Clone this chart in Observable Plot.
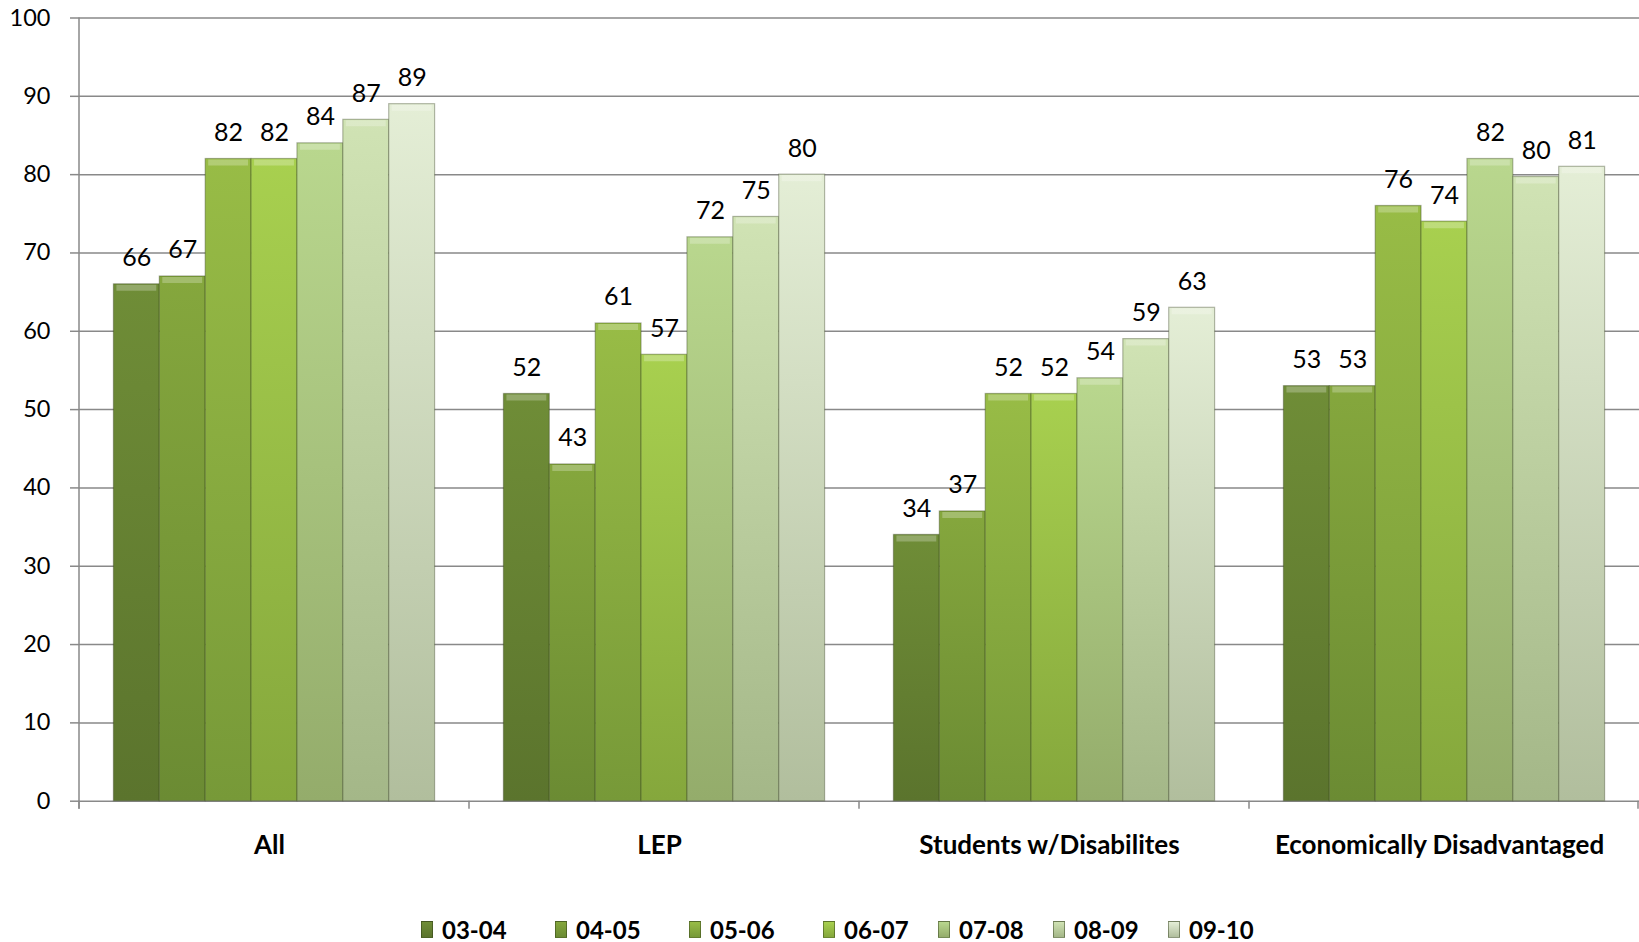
<!DOCTYPE html>
<html>
<head>
<meta charset="utf-8">
<script src="https://cdn.jsdelivr.net/npm/d3@7"></script>
<script src="https://cdn.jsdelivr.net/npm/@observablehq/plot@0.6"></script>
<style>
  html, body { margin: 0; padding: 0; background: #fff; overflow: hidden; }
  #chart svg { display: block; }
  #legend { display: flex; align-items: center; padding-left: 421px; margin-top: 36px; height: 26px;
    font-family: Lato, "Open Sans", sans-serif; font-weight: bold; font-size: 24px; color: #000; }
  .item { display: flex; align-items: center; }
  .sw { width: 12px; height: 17px; margin-right: 9px; box-sizing: border-box; border: 1px solid rgba(40,50,20,0.45); }
</style>
</head>
<body>
<svg width="0" height="0" style="position:absolute">
  <defs id="grads"></defs>
</svg>
<div id="chart"></div>
<div id="legend"></div>
<script>
const categories = ["All", "LEP", "Students w/Disabilites", "Economically Disadvantaged"];
const years = ["03-04", "04-05", "05-06", "06-07", "07-08", "08-09", "09-10"];
const v0304 = [66, 52, 34, 53];
const v0405 = [67, 43, 37, 53];
const v0506 = [82, 61, 52, 76];
const v0607 = [82, 57, 52, 74];
const v0708 = [84, 72, 54, 82];
const v0809 = [87, 74.6, 59, 79.7];
const v0910 = [89, 80, 63, 81];
const yTicks = [0, 10, 20, 30, 40, 50, 60, 70, 80, 90, 100];

const series = [v0304, v0405, v0506, v0607, v0708, v0809, v0910];
const topColors = ["#6f8d37", "#85a73d", "#98bc46", "#a8d04f", "#b9d78e", "#d0e3b4", "#e4eed6"];
const bottomColors = ["#5b742d", "#6b8b33", "#779938", "#85a73c", "#94ac6b", "#a4b788", "#b1be9d"];

const rows = [];
years.forEach((yr, i) => categories.forEach((c, j) => rows.push({category: c, year: yr, value: series[i][j]})));

// gradients
const defs = d3.select("#grads");
years.forEach((yr, i) => {
  const g = defs.append("linearGradient").attr("id", "g" + i).attr("x1", 0).attr("y1", 0).attr("x2", 0).attr("y2", 1);
  g.append("stop").attr("offset", "0%").attr("stop-color", topColors[i]);
  g.append("stop").attr("offset", "100%").attr("stop-color", bottomColors[i]);
});

const chart = Plot.plot({
  width: 1639,
  height: 880,
  marginLeft: 78,
  marginRight: 0,
  marginTop: 17.5,
  marginBottom: 79.3,
  style: {fontFamily: "Lato, 'Open Sans', sans-serif", fontSize: "23px", color: "#000", background: "#fff"},
  fx: {domain: categories, padding: 0, label: null},
  x: {domain: years, paddingInner: 0, paddingOuter: 0.75, round: false, axis: null},
  y: {domain: [0, 100], label: null},
  color: {type: "ordinal", domain: years, range: years.map((_, i) => `url(#g${i})`)},
  marks: [
    Plot.gridY(yTicks, {stroke: "#898989", strokeOpacity: 1, strokeWidth: 1.5}),
    Plot.axisY(yTicks, {tickSize: 9, tickPadding: 20, stroke: "#898989", strokeWidth: 1.5, fill: "#000", fontSize: 23.5, label: null}),
    Plot.axisFx({anchor: "bottom", tickSize: 0, tickPadding: 34, dx: -5, fontWeight: "bold", fontSize: 26, label: null}),
    Plot.barY(rows, {fx: "category", x: "year", y: "value", fill: "year", stroke: "#2f3a18", strokeOpacity: 0.35, strokeWidth: 1.2}),
    Plot.tickY(rows, {fx: "category", x: "year", y: "value", stroke: "#fff", strokeOpacity: 0.25, strokeWidth: 6, dy: 3.5, inset: 3}),
    Plot.text(rows, {fx: "category", x: "year", y: "value", text: d => d3.format(".0f")(d.value), lineAnchor: "bottom", dy: -18, fontSize: 25, fill: "#000"})
  ]
});
document.getElementById("chart").appendChild(chart);

// axis lines and category boundary ticks
const fx = chart.scale("fx");
const y = chart.scale("y");
const svg = d3.select(chart);
const y0 = y.apply(0);
const x0 = fx.apply(categories[0]);
svg.append("line").attr("x1", x0).attr("x2", x0).attr("y1", y.apply(100)).attr("y2", y0 + 8)
  .attr("stroke", "#898989").attr("stroke-width", 1.5);
const bounds = categories.map(c => fx.apply(c)).concat([fx.apply(categories[categories.length - 1]) + fx.bandwidth]);
bounds.forEach(b => {
  const bx = Math.min(b, 1639 - 1);
  svg.append("line").attr("x1", bx).attr("x2", bx).attr("y1", y0).attr("y2", y0 + 8)
    .attr("stroke", "#898989").attr("stroke-width", 1.5);
});

// legend
const legend = d3.select("#legend");
years.forEach((yr, i) => {
  const it = legend.append("div").attr("class", "item").style("width", i < 3 ? "134px" : "115px");
  it.append("div").attr("class", "sw").style("background", `linear-gradient(${topColors[i]}, ${bottomColors[i]})`);
  it.append("span").text(yr);
});
</script>
</body>
</html>
